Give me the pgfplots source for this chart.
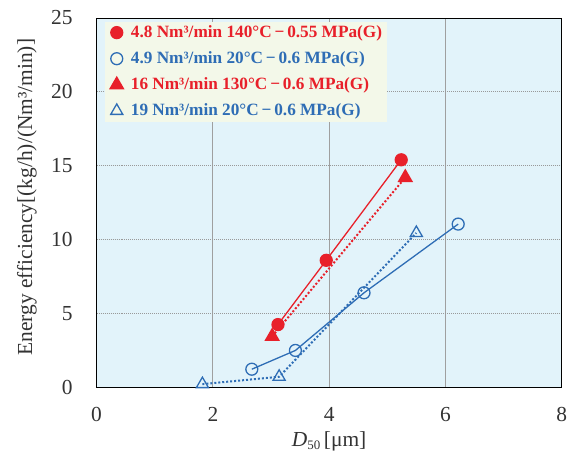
\documentclass[border=0pt]{standalone}
\usepackage{pgfplots}
\pgfplotsset{compat=1.18}
\usepackage{fontspec}
\setmainfont{Liberation Serif}

\definecolor{cred}{HTML}{E8202A}
\definecolor{cblue}{HTML}{2E6DB5}
\definecolor{plotbg}{HTML}{E2F3FA}
\definecolor{legbg}{HTML}{F3F8E9}

\begin{document}
\fontsize{18pt}{22pt}\selectfont
\begin{tikzpicture}
\begin{axis}[
    scale only axis,
    width=467pt, height=371pt,
    xmin=0, xmax=8, ymin=0, ymax=25,
    xtick={0,2,4,6,8}, ytick={0,5,10,15,20,25},
    major tick length=0pt,
    axis background/.style={fill=plotbg},
    axis line style={black, line width=0.8pt},
    xmajorgrids, ymajorgrids,
    x grid style={gray!75, line width=0.8pt},
    y grid style={gray!80, line width=0.8pt, dash pattern=on 1pt off 1pt},
    /pgf/number format/assume math mode=true,
    tick label style={font=\fontsize{21.5pt}{24pt}\selectfont, text=black!80},
    xticklabel style={yshift=-14pt},
    yticklabel style={xshift=-18pt},
    xlabel={\textit{D}\raisebox{-0.35ex}{\fontsize{13pt}{14pt}\selectfont 50}\,[μm]},
    ylabel={Energy efficiency[(kg/h)/(Nm³/min)]},
    label style={font=\fontsize{21.5pt}{24pt}\selectfont, text=black!80},
    xlabel style={at={(axis description cs:0.5,-0.145)}, anchor=center},
    ylabel style={at={(axis description cs:-0.15,0.515)}, anchor=center},
    legend cell align=left,
    legend style={at={(0.017,0.99)}, anchor=north west, fill=legbg, draw=none,
        font=\bfseries\fontsize{17.3pt}{20pt}\selectfont, row sep=7.5pt,
        inner xsep=3pt, inner ysep=1.5pt},
    legend image code/.code={\path[draw=none, fill=none] (-0.05cm,0cm) -- (0.7cm,0cm); \draw[#1, only marks] plot coordinates {(0.27cm,0cm)};},
]
\addplot[cred, line width=1.3pt, mark=*, mark size=6pt] coordinates {
(3.12,4.25) (3.95,8.6) (5.24,15.4)
};
\addlegendentry{\textcolor{cred}{4.8 Nm³/min 140°C\,−\,0.55 MPa(G)}}
\addplot[cblue, line width=1.3pt, mark=o, mark size=6pt, mark options={line width=1.3pt}] coordinates {
(2.67,1.23) (3.42,2.5) (4.6,6.4) (6.22,11.05)
};
\addlegendentry{\textcolor{cblue}{4.9 Nm³/min 20°C\,−\,0.6 MPa(G)}}
\addplot[cred, line width=2pt, dash pattern=on 2pt off 2pt, mark=triangle*, mark size=7pt, mark options={solid}] coordinates {
(3.02,3.45) (5.31,14.2)
};
\addlegendentry{\textcolor{cred}{16 Nm³/min 130°C\,−\,0.6 MPa(G)}}
\addplot[cblue, line width=2pt, dash pattern=on 2pt off 2pt, mark=triangle, mark size=7pt, mark options={solid, line width=1.3pt}] coordinates {
(1.82,0.22) (3.14,0.72) (5.5,10.45)
};
\addlegendentry{\textcolor{cblue}{19 Nm³/min 20°C\,−\,0.6 MPa(G)}}
\end{axis}
\path[use as bounding box] (current axis.south west) ++(-97pt,-70pt) rectangle ([xshift=9pt,yshift=18pt]current axis.north east);
\end{tikzpicture}
\end{document}
